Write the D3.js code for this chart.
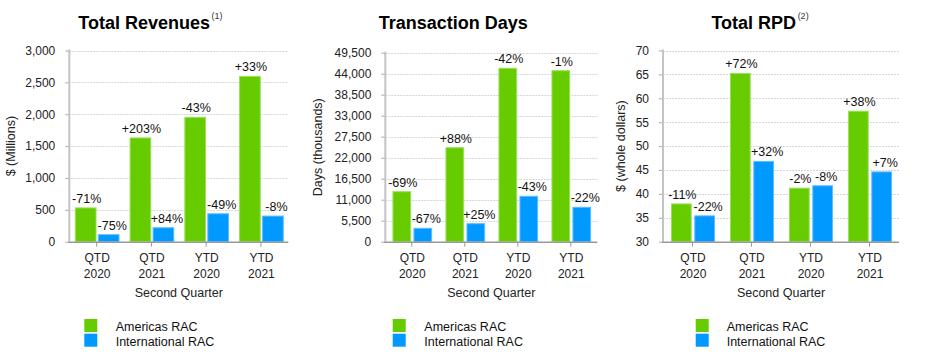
<!DOCTYPE html>
<html>
<head>
<meta charset="utf-8">
<script src="https://cdn.jsdelivr.net/npm/d3@7/dist/d3.min.js"></script>
<style>
  html, body { margin: 0; padding: 0; background: #fff; }
  svg { display: block; font-family: "Liberation Sans", Arial, sans-serif; }
</style>
</head>
<body>
<svg id="chart" width="929" height="358"></svg>
<script>
// ---------------- DATA ----------------
const categories = ["QTD 2020", "QTD 2021", "YTD 2020", "YTD 2021"];
const seriesNames = ["Americas RAC", "International RAC"];
const xAxisTitle = "Second Quarter";

const revAmericas = [530, 1628, 1951, 2593];
const revIntl = [110, 219, 438, 402];
const revAmericasPct = ["-71%", "+203%", "-43%", "+33%"];
const revIntlPct = ["-75%", "+84%", "-49%", "-8%"];
const revTicks = [0, 500, 1000, 1500, 2000, 2500, 3000];

const daysAmericas = [13095, 24619, 45414, 44785];
const daysIntl = [3509, 4714, 11890, 9010];
const daysAmericasPct = ["-69%", "+88%", "-42%", "-1%"];
const daysIntlPct = ["-67%", "+25%", "-43%", "-22%"];
const daysTicks = [0, 5500, 11000, 16500, 22000, 27500, 33000, 38500, 44000, 49500];

const rpdAmericas = [37.9, 65.2, 41.2, 57.3];
const rpdIntl = [35.4, 46.8, 41.7, 44.6];
const rpdAmericasPct = ["-11%", "+72%", "-2%", "+38%"];
const rpdIntlPct = ["-22%", "+32%", "-8%", "+7%"];
const rpdTicks = [30, 35, 40, 45, 50, 55, 60, 65, 70];

const colors = ["#66cc00", "#0099ff"];
const borders = ["#9ae05a", "#5cbcff"];

// ---------------- LAYOUT ----------------
const panels = [
  { title: "Total Revenues", sup: "(1)", yTitle: "$ (Millions)",
    a: revAmericas, b: revIntl, aPct: revAmericasPct, bPct: revIntlPct, ticks: revTicks,
    x0: 69.3, x1: 288.3, yTop: 50.5, yBot: 241.7, barFrac: 0.378, gap: 2.3,
    titleX: 144.2, yTitleX: 11, legX: 84.3, legTextX: 115.7 },
  { title: "Transaction Days", sup: null, yTitle: "Days (thousands)",
    a: daysAmericas, b: daysIntl, aPct: daysAmericasPct, bPct: daysIntlPct, ticks: daysTicks,
    x0: 385.3, x1: 597.3, yTop: 52.7, yBot: 241.7, barFrac: 0.334, gap: 3.3,
    titleX: 453.3, yTitleX: 318.3, legX: 392.7, legTextX: 424.3 },
  { title: "Total RPD", sup: "(2)", yTitle: "$ (whole dollars)",
    a: rpdAmericas, b: rpdIntl, aPct: rpdAmericasPct, bPct: rpdIntlPct, ticks: rpdTicks,
    x0: 663, x1: 899, yTop: 50.5, yBot: 241.7, barFrac: 0.334, gap: 3.6,
    titleX: 753.8, yTitleX: 621, legX: 695.7, legTextX: 726.7 }
];

const svg = d3.select("#chart");

panels.forEach(p => {
  const g = svg.append("g");
  const x = d3.scaleBand().domain(categories).range([p.x0, p.x1]).padding(0);
  const y = d3.scaleLinear().domain([p.ticks[0], p.ticks[p.ticks.length - 1]]).range([p.yBot, p.yTop]);

  // gridlines
  g.append("g").selectAll("line").data(p.ticks.slice(1)).join("line")
    .attr("x1", p.x0).attr("x2", p.x1)
    .attr("y1", d => Math.round(y(d)) + 0.5).attr("y2", d => Math.round(y(d)) + 0.5)
    .attr("stroke", "#d6d6d6").attr("stroke-dasharray", "2,1").attr("stroke-width", 1);

  // y axis
  const ya = g.append("g").attr("transform", `translate(${p.x0},0)`)
    .call(d3.axisLeft(y).tickValues(p.ticks).tickFormat(d3.format(",")).tickSize(4).tickPadding(10));
  ya.select(".domain").remove();
  ya.selectAll(".tick line").attr("stroke", "#aaa");
  ya.selectAll(".tick text").attr("fill", "#222").attr("font-size", 12)
    .attr("font-family", "'Liberation Sans', Arial, sans-serif");
  g.append("line").attr("x1", p.x0).attr("x2", p.x0).attr("y1", p.yTop - 1).attr("y2", p.yBot)
    .attr("stroke", "#c4c4c4").attr("stroke-width", 2);

  // bars
  const bw = x.bandwidth() * p.barFrac;
  const cx = d => x(d) + x.bandwidth() / 2 + 0.5;
  const series = [
    { vals: p.a, pct: p.aPct, xo: -p.gap / 2 - bw, lo: 1, i: 0 },
    { vals: p.b, pct: p.bPct, xo: p.gap / 2, lo: 3.5, i: 1 }
  ];
  series.forEach(s => {
    g.append("g").selectAll("rect").data(categories).join("rect")
      .attr("x", (d) => cx(d) + s.xo)
      .attr("y", (d, i) => y(s.vals[i]))
      .attr("width", bw)
      .attr("height", (d, i) => y(p.ticks[0]) - y(s.vals[i]))
      .attr("fill", colors[s.i])
      .attr("stroke", borders[s.i]).attr("stroke-width", 1);
    g.append("g").selectAll("text").data(categories).join("text")
      .attr("x", d => cx(d) + s.xo + bw / 2 + s.lo)
      .attr("y", (d, i) => y(s.vals[i]) - 5)
      .attr("text-anchor", "middle").attr("font-size", 12.5).attr("fill", "#111")
      .text((d, i) => s.pct[i]);
  });

  // x axis
  const xa = g.append("g").attr("transform", `translate(0,${p.yBot})`)
    .call(d3.axisBottom(x).tickSize(5).tickFormat(""));
  xa.select(".domain").remove();
  xa.selectAll(".tick line").attr("stroke", "#999");
  g.append("line").attr("x1", p.x0 - 1).attr("x2", p.x1).attr("y1", p.yBot + 0.5).attr("y2", p.yBot + 0.5)
    .attr("stroke", "#999").attr("stroke-width", 1.5);
  g.append("g").selectAll("text").data(categories).join("text")
    .attr("x", d => x(d) + x.bandwidth() / 2 + 0.5)
    .attr("y", 261.5)
    .attr("text-anchor", "middle").attr("font-size", 12).attr("fill", "#222")
    .each(function (d) {
      const parts = d.split(" ");
      const t = d3.select(this);
      parts.forEach((w, k) => t.append("tspan").attr("x", x(d) + x.bandwidth() / 2 + 0.5)
        .attr("dy", k === 0 ? 0 : 16).text(w));
    });

  // axis titles
  g.append("text").attr("x", (p.x0 + p.x1) / 2).attr("y", 296.5)
    .attr("text-anchor", "middle").attr("font-size", 12.5).attr("fill", "#222").text(xAxisTitle);
  g.append("text").attr("transform", `translate(${p.yTitleX + 4},${(p.yTop + p.yBot) / 2}) rotate(-90)`)
    .attr("text-anchor", "middle").attr("font-size", 12.5).attr("fill", "#222").text(p.yTitle);

  // title
  const tt = g.append("text").attr("x", p.titleX).attr("y", 28.5)
    .attr("text-anchor", "middle").attr("font-size", 18).attr("font-weight", "bold")
    .attr("fill", "#000").text(p.title);
  if (p.sup) {
    const len = tt.node().getComputedTextLength();
    g.append("text").attr("x", p.titleX + len / 2 + 1.5).attr("y", 18.5)
      .attr("font-size", 9).attr("fill", "#333").text(p.sup);
  }

  // legend
  seriesNames.forEach((n, i) => {
    g.append("rect").attr("x", p.legX).attr("y", 319 + i * 14.7).attr("width", 13).attr("height", 13)
      .attr("fill", colors[i]);
    g.append("text").attr("x", p.legTextX).attr("y", 330.5 + i * 15)
      .attr("font-size", 12.5).attr("fill", "#111").text(n);
  });
});
</script>
</body>
</html>
